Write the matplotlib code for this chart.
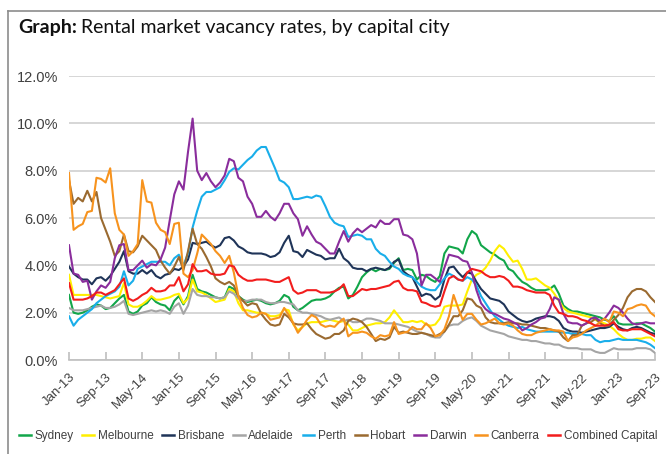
import numpy as np
import pandas as pd
import matplotlib
matplotlib.use("Agg")
import matplotlib.pyplot as plt
from matplotlib.lines import Line2D

# Tasas de vacantes mensuales (%), ene-2013 a sep-2023
sydney = [2.75, 2.0, 1.95, 2.0, 2.1, 2.25, 2.35, 2.3, 2.15, 2.2, 2.4, 2.6,
          2.75, 2.05, 1.95, 2.05, 2.3, 2.4, 2.65, 2.45, 2.35, 2.3, 2.1, 2.5,
          2.7, 2.35, 2.7, 3.6, 3.0, 2.9, 2.85, 2.75, 2.65, 2.6, 2.65, 3.1,
          3.0, 2.7, 2.55, 2.45, 2.5, 2.55, 2.5, 2.4, 2.35, 2.4, 2.5, 2.75,
          2.65, 2.25, 2.1, 2.2, 2.35, 2.5, 2.55, 2.55, 2.6, 2.7, 2.9, 3.05,
          3.1, 2.6, 2.75, 3.1, 3.5, 3.7, 3.85, 3.75, 3.85, 3.8, 3.85, 4.1,
          4.3, 3.8, 3.85, 3.8, 3.4, 3.6, 3.55, 3.4, 3.3, 3.55, 4.5, 4.8,
          4.75, 4.7, 4.5, 5.1, 5.45, 5.3, 4.85, 4.7, 4.55, 4.45, 4.3, 4.2,
          3.85, 3.75, 3.5, 3.3, 3.2, 3.05, 2.95, 2.95, 2.95, 3.0, 3.15, 2.8,
          2.3, 2.15, 2.05, 2.05, 2.0, 1.95, 1.9, 1.85, 1.8, 1.7, 1.65, 1.85,
          1.55, 1.5, 1.5, 1.5, 1.55, 1.55, 1.45, 1.35, 1.2]
melbourne = [3.6, 2.75, 2.75, 2.75, 2.75, 2.75, 2.75, 2.7, 2.65, 2.6, 2.65, 2.7,
             3.25, 2.35, 2.25, 2.25, 2.35, 2.5, 2.7, 2.55, 2.55, 2.6, 2.65, 2.75,
             2.8, 2.4, 2.6, 3.4, 2.9, 2.85, 2.75, 2.6, 2.45, 2.5, 2.55, 3.0,
             2.9, 2.4, 2.1, 2.1, 2.05, 2.0, 2.0, 1.95, 1.85, 1.85, 1.9, 2.15,
             2.1, 1.5, 1.25, 1.4, 1.55, 1.6, 1.6, 1.6, 1.65, 1.7, 1.65, 1.6,
             1.65, 1.5, 1.25, 1.25, 1.35, 1.45, 1.5, 1.55, 1.55, 1.6, 1.8, 2.1,
             1.85, 1.6, 1.6, 1.65, 1.6, 1.65, 1.5, 1.45, 1.5, 1.75, 2.25, 2.3,
             2.3, 2.3, 2.35, 2.9, 3.4, 3.6, 3.7, 3.9, 4.2, 4.6, 4.85, 4.7,
             4.4, 4.15, 4.2, 3.85, 3.4, 3.4, 3.45, 3.3, 3.15, 3.05, 2.8, 2.5,
             2.2, 2.05, 2.0, 1.95, 1.9, 1.85, 1.8, 1.7, 1.6, 1.55, 1.45, 1.3,
             1.1, 0.95, 0.85, 0.85, 0.9, 0.9, 0.95, 0.95, 0.8]
brisbane = [3.95, 3.65, 3.5, 3.4, 3.4, 3.2, 3.45, 3.5, 3.35, 3.55, 3.85, 4.15,
            4.6, 3.75, 3.65, 3.65, 3.8, 3.65, 3.8, 3.55, 3.45, 3.6, 3.65, 3.85,
            3.8, 3.95, 4.25, 4.95, 4.9, 4.95, 5.0, 4.85, 4.75, 4.85, 5.15, 5.2,
            5.05, 4.8, 4.7, 4.55, 4.5, 4.5, 4.5, 4.45, 4.35, 4.4, 4.55, 4.95,
            5.25, 4.6, 4.55, 4.35, 4.65, 4.55, 4.45, 4.4, 4.25, 4.3, 4.3, 4.7,
            4.3, 4.15, 3.9, 3.85, 3.85, 3.75, 3.85, 3.9, 3.85, 3.8, 3.9, 4.15,
            4.25, 3.75, 3.6, 3.5, 3.1, 2.7, 2.8, 2.75, 2.55, 2.7, 3.4, 3.9,
            3.95, 3.7, 3.5, 3.7, 3.65, 3.3, 3.0, 2.8, 2.6, 2.55, 2.5, 2.35,
            2.05, 1.9, 1.75, 1.65, 1.6, 1.65, 1.75, 1.8, 1.85, 1.85, 1.8, 1.65,
            1.35, 1.25, 1.2, 1.2, 1.15, 1.2, 1.25, 1.3, 1.35, 1.35, 1.4, 1.55,
            1.4, 1.3, 1.25, 1.35, 1.4, 1.35, 1.25, 1.15, 1.1]
adelaide = [2.2, 2.1, 2.1, 2.1, 2.15, 2.2, 2.25, 2.3, 2.2, 2.2, 2.25, 2.35,
            2.5, 1.95, 1.9, 1.95, 2.0, 2.05, 2.1, 2.05, 2.1, 2.05, 1.95, 2.25,
            2.4, 1.95, 2.3, 3.0, 2.75, 2.7, 2.7, 2.65, 2.65, 2.6, 2.65, 2.9,
            2.8, 2.6, 2.5, 2.5, 2.55, 2.55, 2.55, 2.45, 2.4, 2.4, 2.45, 2.45,
            2.4, 2.35, 2.1, 2.0, 2.0, 1.95, 1.9, 1.85, 1.75, 1.7, 1.75, 1.8,
            1.65, 1.7, 1.6, 1.6, 1.65, 1.75, 1.75, 1.7, 1.65, 1.55, 1.55, 1.55,
            1.5, 1.45, 1.4, 1.3, 1.2, 1.15, 1.1, 1.0, 0.95, 0.95, 1.2, 1.45,
            1.5, 1.5, 1.65, 1.75, 1.8, 1.65, 1.45, 1.35, 1.25, 1.2, 1.15, 1.1,
            1.0, 0.95, 0.9, 0.85, 0.85, 0.8, 0.8, 0.75, 0.7, 0.7, 0.65, 0.65,
            0.55, 0.5, 0.5, 0.5, 0.45, 0.45, 0.45, 0.35, 0.3, 0.3, 0.4, 0.5,
            0.45, 0.45, 0.45, 0.45, 0.5, 0.5, 0.5, 0.45, 0.3]
perth = [1.85, 1.45, 1.7, 1.85, 2.0, 2.15, 2.4, 2.55, 2.7, 2.8, 2.9, 3.1,
         3.75, 3.15, 3.35, 3.85, 3.95, 4.05, 4.15, 4.15, 4.15, 4.15, 4.0, 4.3,
         4.45, 4.0, 4.5, 5.6, 6.3, 6.9, 7.1, 7.1, 7.2, 7.3, 7.6, 7.95,
         8.1, 8.05, 8.25, 8.45, 8.6, 8.85, 9.0, 9.0, 8.55, 8.1, 7.6, 7.5,
         7.3, 6.8, 6.8, 6.85, 6.9, 6.85, 6.95, 6.9, 6.5, 6.05, 5.8, 5.7,
         5.65, 5.2, 5.25, 5.3, 5.25, 5.1, 5.1, 4.7, 4.5, 4.4, 4.15, 3.95,
         3.85, 3.65, 3.55, 3.5, 3.3, 3.1, 3.0, 2.95, 2.95, 3.2, 3.45, 3.65,
         3.55, 3.4, 3.35, 3.5, 3.4, 3.15, 2.7, 2.4, 2.1, 1.85, 1.7, 1.55,
         1.45, 1.4, 1.35, 1.4, 1.3, 1.25, 1.2, 1.2, 1.2, 1.2, 1.2, 1.2,
         1.15, 1.15, 1.1, 1.1, 1.1, 1.05, 1.05, 0.85, 0.75, 0.8, 0.8, 0.85,
         0.9, 0.85, 0.85, 0.85, 0.85, 0.8, 0.75, 0.65, 0.5]
hobart = [7.6, 6.6, 6.85, 6.7, 7.15, 6.7, 7.1, 6.0, 5.5, 5.0, 4.4, 4.6,
          5.3, 4.6, 4.55, 4.8, 5.25, 5.05, 4.85, 4.65, 4.2, 3.9, 3.65, 3.95,
          4.35, 3.8, 4.6, 5.55, 4.9, 4.7, 4.35, 3.95, 3.45, 3.3, 3.2, 3.3,
          3.15, 2.7, 2.5, 2.3, 2.4, 2.35, 1.95, 1.7, 1.5, 1.45, 1.5, 1.95,
          1.8, 1.55, 1.5, 1.5, 1.55, 1.3, 1.1, 1.0, 0.9, 0.95, 1.1, 1.1,
          1.25, 1.65, 1.75, 1.7, 1.6, 1.4, 1.1, 0.8, 0.9, 0.85, 0.95, 1.4,
          1.15, 1.2, 1.15, 1.1, 1.1, 1.15, 1.1, 1.05, 1.0, 1.1, 1.2, 1.5,
          1.85, 1.85, 2.1, 2.6, 2.55, 2.3, 2.2, 1.8, 1.6, 1.55, 1.55, 1.55,
          1.6, 1.55, 1.55, 1.5, 1.5, 1.45, 1.4, 1.35, 1.35, 1.3, 1.25, 1.2,
          0.95, 0.8, 1.05, 1.05, 1.45, 1.55, 1.6, 1.75, 1.55, 1.45, 1.45, 1.7,
          1.9, 2.2, 2.65, 2.9, 3.0, 3.0, 2.9, 2.65, 2.45]
darwin = [4.85, 3.65, 3.6, 3.3, 3.35, 2.55, 2.9, 3.15, 3.05, 3.3, 4.3, 4.85,
          4.9, 3.8, 3.8, 4.0, 4.2, 3.9, 4.05, 4.0, 4.25, 4.75, 5.9, 7.0,
          7.55, 7.2, 8.8, 10.2, 8.0, 7.6, 7.9, 7.55, 7.3, 7.5, 7.8, 8.5,
          8.4, 7.7, 7.55, 6.9, 6.6, 6.05, 6.05, 6.3, 6.05, 5.9, 6.2, 6.6,
          6.6, 6.2, 5.95, 5.25, 5.65, 5.3, 5.0, 4.9, 4.7, 4.5, 4.5, 5.0,
          5.45, 5.0, 5.35, 5.55, 5.4, 5.55, 5.7, 5.6, 5.9, 5.75, 5.75, 5.95,
          5.95, 5.3, 5.25, 5.1, 4.5, 3.15, 3.6, 3.6, 3.45, 3.3, 3.9, 4.45,
          4.4, 4.35, 4.2, 4.15, 3.7, 2.95, 2.4, 2.15, 2.0, 1.95, 1.85, 1.75,
          1.7, 1.6, 1.5, 1.25, 1.35, 1.5, 1.6, 1.75, 1.8, 2.15, 2.65, 2.55,
          1.95, 1.6, 1.55, 1.55, 1.45, 1.55, 1.75, 1.8, 1.65, 1.75, 2.0, 2.3,
          2.2, 2.0, 1.75, 1.55, 1.5, 1.55, 1.6, 1.55, 1.55]
canberra = [7.9, 5.5, 5.65, 5.75, 6.25, 6.3, 7.7, 7.65, 7.5, 8.1, 6.2, 5.5,
            5.3, 4.4, 4.6, 4.9, 7.6, 6.7, 6.65, 5.8, 5.5, 5.4, 4.9, 5.75,
            5.8, 3.65, 3.5, 3.8, 4.5, 5.3, 5.1, 4.9, 4.6, 4.4, 4.1, 4.4,
            3.7, 2.7, 2.2, 1.9, 1.8, 1.85, 2.0, 1.95, 1.7, 1.75, 1.8, 2.2,
            1.9, 1.55, 1.15, 1.4, 1.7, 1.9, 1.8, 1.5, 1.4, 1.45, 1.4, 1.6,
            1.75, 1.0, 1.15, 1.15, 1.2, 1.15, 1.0, 0.9, 1.05, 1.0, 1.05, 1.6,
            1.1, 1.15, 1.2, 1.4, 1.3, 1.3, 1.55, 1.35, 1.0, 1.05, 1.3, 1.85,
            2.75, 2.2, 1.7, 1.95, 1.95, 1.7, 1.5, 1.55, 1.65, 1.75, 1.55, 1.5,
            1.55, 1.45, 1.25, 1.1, 1.05, 1.05, 1.15, 1.2, 1.25, 1.3, 1.25, 1.25,
            1.2, 0.8, 0.95, 1.0, 1.1, 1.25, 1.35, 1.45, 1.6, 1.75, 1.6, 2.05,
            2.0, 1.85, 2.15, 2.2, 2.3, 2.35, 2.3, 2.0, 1.85]
combined = [3.25, 2.55, 2.55, 2.55, 2.6, 2.7, 2.85, 2.85, 2.75, 2.85, 2.95, 3.2,
            3.45, 2.6, 2.5, 2.6, 2.75, 2.85, 3.05, 2.9, 2.9, 2.95, 3.15, 3.15,
            3.5, 2.9, 3.2, 4.05, 3.75, 3.75, 3.8, 3.65, 3.6, 3.6, 3.65, 4.0,
            3.95, 3.6, 3.45, 3.35, 3.35, 3.4, 3.4, 3.4, 3.35, 3.3, 3.3, 3.4,
            3.5, 2.95, 2.8, 2.85, 2.95, 2.95, 2.95, 2.85, 2.85, 2.85, 2.9, 3.0,
            3.2, 2.7, 2.7, 2.85, 3.0, 2.95, 3.0, 3.0, 3.05, 3.1, 3.15, 3.3,
            3.35, 3.05, 2.95, 2.95, 2.9, 2.45, 2.4, 2.3, 2.25, 2.3, 2.9, 3.45,
            3.55, 3.4, 3.35, 3.7, 3.85, 3.8, 3.75, 3.6, 3.5, 3.5, 3.55, 3.5,
            3.35, 3.1, 3.1, 3.05, 2.95, 2.9, 2.85, 2.85, 2.85, 2.75, 2.3, 2.0,
            1.95, 1.85, 1.85, 1.8, 1.7, 1.65, 1.55, 1.45, 1.45, 1.45, 1.5, 1.6,
            1.3, 1.25, 1.25, 1.3, 1.3, 1.3, 1.2, 1.1, 1.0]

months = pd.date_range("2013-01-01", periods=len(sydney), freq="MS")
x = np.arange(len(months))

series = [("Sydney", sydney, "#12a64a"),
          ("Melbourne", melbourne, "#ffef00"),
          ("Brisbane", brisbane, "#1f3458"),
          ("Adelaide", adelaide, "#a5a5a5"),
          ("Perth", perth, "#19aeea"),
          ("Hobart", hobart, "#9a6a30"),
          ("Darwin", darwin, "#8a2d9c"),
          ("Canberra", canberra, "#f7931e"),
          ("Combined Capital", combined, "#f21d1d")]

W, H = 666, 454
fig = plt.figure(figsize=(W / 100, H / 100), dpi=100)

# marco gris del recuadro
fig.add_artist(Line2D([8 / W, 8 / W], [0, 1 - 11 / H], transform=fig.transFigure,
                      color="#8c8c8c", lw=1.2))
fig.add_artist(Line2D([8 / W, 1], [1 - 11 / H, 1 - 11 / H], transform=fig.transFigure,
                      color="#8c8c8c", lw=1.2))

# titulo: parte en negrita + resto normal
t1 = fig.text(18 / W, 1 - 28 / H, "Graph:", fontsize=14, fontweight="bold",
              family="Lato", va="center", ha="left", color="#111111")
fig.canvas.draw()
bb = t1.get_window_extent(renderer=fig.canvas.get_renderer())
fig.text(bb.x1 / W + 4 / W, 1 - 28 / H, "Rental market vacancy rates, by capital city",
         fontsize=14, family="Lato", va="center", ha="left", color="#111111")

ax = fig.add_axes([69 / W, 94 / H, 586 / W, 284 / H])
for name, vals, col in series:
    ax.plot(x, vals, color=col, lw=1.5, label=name, solid_joinstyle="round")

ax.set_xlim(0, len(x) - 1)
ax.set_ylim(0, 12)
ax.set_yticks(np.arange(0, 13, 2))
ax.set_yticklabels([f"{v:.1f}%" for v in np.arange(0, 13, 2)])
ax.yaxis.grid(True, color="#cfcfcf", lw=1.2)
ax.set_axisbelow(True)
for s in ["left", "right", "top"]:
    ax.spines[s].set_visible(False)
ax.spines["bottom"].set_color("#bfbfbf")
ax.spines["bottom"].set_linewidth(1.2)

tick_pos = x[::8]
ax.set_xticks(tick_pos)
ax.set_xticklabels([months[i].strftime("%b-%y") for i in tick_pos],
                   rotation=45, ha="right", rotation_mode="anchor")
ax.tick_params(axis="x", direction="in", length=6, width=1.2, color="#bfbfbf",
               pad=8, labelsize=9.5, labelcolor="#404040")
ax.tick_params(axis="y", length=0, pad=8, labelsize=10.5, labelcolor="#404040")
for lab in ax.get_xticklabels() + ax.get_yticklabels():
    lab.set_family("Liberation Sans")

leg = fig.legend(loc="center", bbox_to_anchor=(338 / W, 1 - 436 / H), ncol=9,
                 frameon=False, handlelength=1.0, handletextpad=0.3,
                 columnspacing=0.75, borderpad=0, borderaxespad=0,
                 prop={"family": "Liberation Sans", "size": 8.5})
for t in leg.get_texts():
    t.set_color("#404040")
for h in leg.get_lines():
    h.set_linewidth(1.8)

fig.savefig("out.png", dpi=100)
